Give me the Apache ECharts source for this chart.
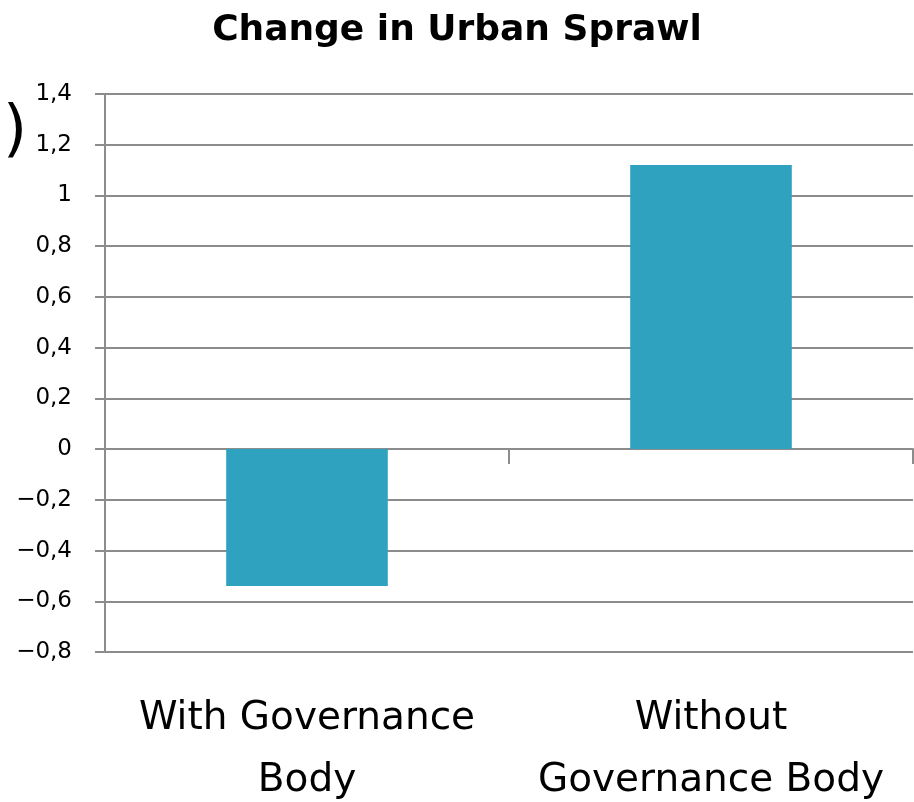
<!DOCTYPE html>
<html>
<head>
<meta charset="utf-8">
<script src="https://cdn.jsdelivr.net/npm/echarts@6/dist/echarts.min.js"></script>
<style>
html,body{margin:0;padding:0;background:#fff;}
#chart{width:914px;height:802px;}
</style>
</head>
<body>
<div id="chart"></div>
<script>
var categories = ['With Governance\nBody', 'Without\nGovernance Body'];
var values = [-0.54, 1.12];
var yMin = -0.8, yMax = 1.4, yStep = 0.2;
var titleText = 'Change in Urban Sprawl';

var FONT = '"DejaVu Sans", sans-serif';
var GRID = '#8c8c8c';
var chart = echarts.init(document.getElementById('chart'));
chart.setOption({
  backgroundColor: '#ffffff',
  animation: false,
  title: {
    text: titleText,
    left: 'center',
    top: 8,
    textStyle: {fontFamily: FONT, fontSize: 36, fontWeight: 'bold', color: '#000'}
  },
  graphic: [{
    type: 'text', left: 3, top: 102,
    style: {text: ')', font: '62px ' + FONT, fill: '#000'}
  }],
  grid: {left: 105, right: 1, top: 94, bottom: 150, containLabel: false, outerBoundsMode: 'none'},
  xAxis: [{
    type: 'category',
    data: categories,
    position: 'bottom',
    axisLine: {show: false, onZero: false},
    axisTick: {show: false},
    axisLabel: {
      margin: 36,
      fontFamily: FONT, fontSize: 39, color: '#000', lineHeight: 62,
      interval: 0
    }
  }, {
    type: 'category',
    data: categories,
    position: 'bottom',
    axisLine: {show: true, onZero: true, lineStyle: {color: GRID, width: 2}},
    axisTick: {show: true, length: 15, lineStyle: {color: GRID, width: 2}},
    axisLabel: {show: false}
  }],
  yAxis: {
    type: 'value',
    min: yMin, max: yMax, interval: yStep,
    axisLine: {show: true, lineStyle: {color: GRID, width: 2}},
    axisTick: {show: true, length: 10, lineStyle: {color: GRID, width: 2}},
    splitLine: {show: true, lineStyle: {color: GRID, width: 2}},
    axisLabel: {
      margin: 33,
      fontFamily: FONT, fontSize: 23, color: '#000',
      formatter: function (v) {
        var r = Math.round(v * 10) / 10;
        return String(r).replace('.', ',').replace('-', '\u2212');
      }
    }
  },
  series: [{
    type: 'bar',
    data: values,
    xAxisIndex: 0,
    barWidth: '40%',
    itemStyle: {color: '#2ea2bf'}
  }]
});
</script>
</body>
</html>
